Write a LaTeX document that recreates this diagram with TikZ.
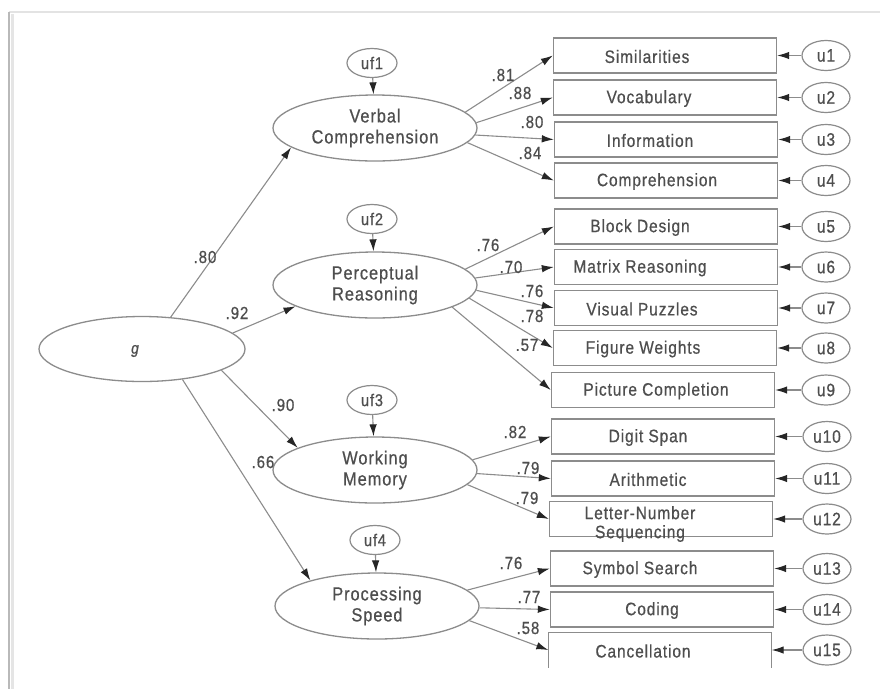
\documentclass[tikz,border=0pt]{standalone}
\usepackage{fontspec}
\setmainfont{Liberation Sans}[FakeStretch=0.86, LetterSpace=5, FakeBold=0.6]
\usetikzlibrary{arrows.meta,shapes.geometric}
\definecolor{ink}{HTML}{4E4E4E}
\definecolor{edge}{HTML}{8C8C8C}
\definecolor{tipc}{HTML}{262626}
\begin{document}
\begin{tikzpicture}[x=1pt,y=-1pt,
  lat/.style={ellipse, draw=edge, line width=1.3pt, minimum width=204pt,
    minimum height=66pt, inner sep=0pt, text=ink, align=center,
    font=\fontsize{19}{21}\selectfont},
  ufe/.style={ellipse, draw=edge, line width=1.2pt, minimum width=50pt,
    minimum height=29pt, inner sep=0pt, text=ink, font=\fontsize{17}{18}\selectfont},
  err/.style={ellipse, draw=edge, line width=1.2pt, minimum width=48pt,
    minimum height=30pt, inner sep=0pt, text=ink, font=\fontsize{18}{18}\selectfont},
  obs/.style={rectangle, draw=edge, line width=1.4pt, minimum width=223pt,
    minimum height=35pt, inner sep=0pt},
  obsopen/.style={rectangle, minimum width=223pt, minimum height=35pt, inner sep=0pt},
  obstxt/.style={text=ink, inner sep=0pt, align=center,
    font=\fontsize{18}{19}\selectfont},
  coef/.style={text=ink, inner sep=0pt, font=\fontsize{17.5}{18}\selectfont},
  link/.style={draw=edge, line width=1.1pt,
    -{Latex[length=12pt,width=7.5pt,color=tipc]}},
]
\useasboundingbox (0,0) rectangle (880,689);
\fill[white] (0,0) rectangle (880,689);

% page frame
\draw[gray!22, line width=1.5pt] (9,12) -- (880,12);
\draw[gray!20, line width=3pt] (12,14) -- (12,689);
\draw[gray!55, line width=1.8pt] (9,12) -- (9,689);

% general factor
\node[ellipse, draw=edge, line width=1.3pt, minimum width=206pt, minimum height=65pt,
  inner sep=0pt] (g) at (142,349) {};
\node[text=ink, inner sep=0pt, font=\fontsize{16}{18}\selectfont\itshape] (gl) at (135,351) {g};

% first-order factors and their disturbances
\node[lat] (vc) at (375,128) {Verbal\\Comprehension};
\node[lat] (pr) at (375,285) {Perceptual\\Reasoning};
\node[lat] (wm) at (375,470) {Working\\Memory};
\node[lat] (ps) at (377,606) {Processing\\Speed};

\node[ufe] (uf1) at (372,63) {uf1};
\node[ufe] (uf2) at (372,219) {uf2};
\node[ufe] (uf3) at (372,400) {uf3};
\node[ufe] (uf4) at (375,540) {uf4};

\foreach \a/\b in {uf1/vc, uf2/pr, uf3/wm, uf4/ps}
  \draw[link] (\a) -- (\b);

% subtests
\node[obs] (b1)  at (665,55.5)  {};
\node[obs] (b2)  at (665,97.5)  {};
\node[obs] (b3)  at (666,139.5) {};
\node[obs] (b4)  at (666,180.5) {};
\node[obs] (b5)  at (666,226.5) {};
\node[obs] (b6)  at (666,267)   {};
\node[obs] (b7)  at (666,308)   {};
\node[obs] (b8)  at (665,348)   {};
\node[obs] (b9)  at (663,390)   {};
\node[obs] (b10) at (663,436.5) {};
\node[obs] (b11) at (663,478.5) {};
\node[obs] (b12) at (661,519)   {};
\node[obs] (b13) at (662,568.5) {};
\node[obs] (b14) at (662,609.5) {};
\node[obsopen] (b15) at (660,650) {};
\draw[edge, line width=1.4pt] (b15.south west) -- (b15.north west)
  -- (b15.north east) -- (b15.south east);

\node[obstxt] (t1)  at (647,56.5)  {Similarities};
\node[obstxt] (t2)  at (649,98.5)  {Vocabulary};
\node[obstxt] (t3)  at (650,140.5) {Information};
\node[obstxt] (t4)  at (657,181.5) {Comprehension};
\node[obstxt] (t5)  at (640,227.5) {Block Design};
\node[obstxt] (t6)  at (640,268)   {Matrix Reasoning};
\node[obstxt] (t7)  at (642,309)   {Visual Puzzles};
\node[obstxt] (t8)  at (643,349)   {Figure Weights};
\node[obstxt] (t9)  at (656,391)   {Picture Completion};
\node[obstxt] (t10) at (648,437.5) {Digit Span};
\node[obstxt] (t11) at (648,479.5) {Arithmetic};
\node[obstxt] (t12) at (640,524)   {Letter-Number\\Sequencing};
\node[obstxt] (t13) at (640,569.5) {Symbol Search};
\node[obstxt] (t14) at (652,610.5) {Coding};
\node[obstxt] (t15) at (643,651)   {Cancellation};

% unique variances
\foreach \i/\y in {1/55.5, 2/97.5, 3/139.5, 4/180.5, 5/226.5, 6/267, 7/308, 8/348, 9/390}
  \node[err] (u\i) at (826,\y) {u\i};
\foreach \i/\y in {10/436.5, 11/478.5, 12/519, 13/568.5, 14/609.5, 15/650}
  \node[err] (u\i) at (827,\y) {u\i};
\foreach \i in {1,...,15}
  \draw[link] (u\i) -- (b\i.east |- u\i);

% second-order loadings
\draw[link] (g.48)  -- (vc.193);
\draw[link] (g.10)  -- (pr.195);
\draw[link] (g.-15) -- (wm.164);
\draw[link] (g.-37) -- (ps.159);
\node[coef] (c80) at (205,257) {.80};
\node[coef] (c92) at (237,313) {.92};
\node[coef] (c90) at (283,405) {.90};
\node[coef] (c66) at (263,462) {.66};

% first-order loadings
\draw[link] (vc.10) -- (b1.west);
\draw[link] (vc.3)  -- (b2.west);
\draw[link] (vc.-4) -- (b3.west);
\draw[link] (vc.-9) -- (b4.west);
\node[coef] (l1) at (503,75)  {.81};
\node[coef] (l2) at (520,93)  {.88};
\node[coef] (l3) at (532,122) {.80};
\node[coef] (l4) at (530,153) {.84};

\draw[link] (pr.10)  -- (b5.west);
\draw[link] (pr.4)   -- (b6.west);
\draw[link] (pr.-3)  -- (b7.west);
\draw[link] (pr.-8)  -- (b8.west);
\draw[link] (pr.-16) -- (b9.west);
\node[coef] (l5) at (488,245) {.76};
\node[coef] (l6) at (511,267) {.70};
\node[coef] (l7) at (532,291) {.76};
\node[coef] (l8) at (532,316) {.78};
\node[coef] (l9) at (527,345) {.57};

\draw[link] (wm.6)  -- (b10.west);
\draw[link] (wm.-2) -- (b11.west);
\draw[link] (wm.-9) -- (b12.west);
\node[coef] (l10) at (515,432) {.82};
\node[coef] (l11) at (528,468) {.79};
\node[coef] (l12) at (527,498) {.79};

\draw[link] (ps.10) -- (b13.west);
\draw[link] (ps.-1) -- (b14.west);
\draw[link] (ps.-9) -- (b15.west);
\node[coef] (l13) at (511,563) {.76};
\node[coef] (l14) at (529,597) {.77};
\node[coef] (l15) at (528,628) {.58};
\end{tikzpicture}
\end{document}
